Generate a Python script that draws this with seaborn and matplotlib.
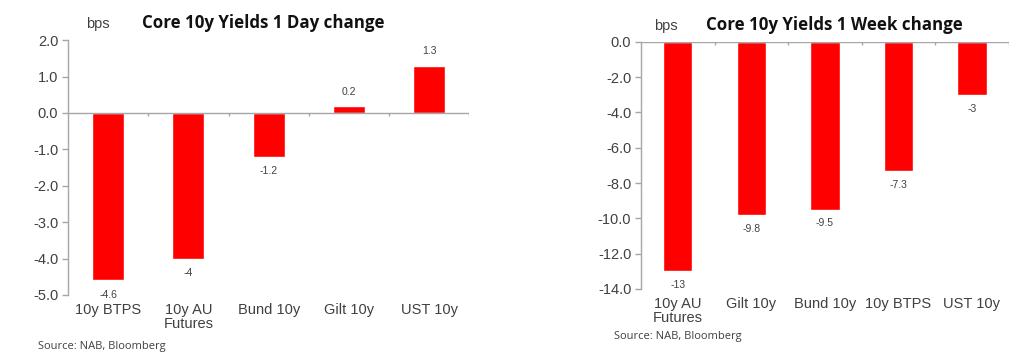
import matplotlib
matplotlib.use("Agg")
import matplotlib.pyplot as plt
import pandas as pd
import seaborn as sns

# Data
day_names = ['10y BTPS', '10y AU\nFutures', 'Bund 10y', 'Gilt 10y', 'UST 10y']
day_change = [-4.6, -4.0, -1.2, 0.2, 1.3]
day_labels = ['-4.6', '-4', '-1.2', '0.2', '1.3']

week_names = ['10y AU\nFutures', 'Gilt 10y', 'Bund 10y', '10y BTPS', 'UST 10y']
week_change = [-13.0, -9.8, -9.5, -7.3, -3.0]
week_labels = ['-13', '-9.8', '-9.5', '-7.3', '-3']

RED = '#FF0000'
GREY = '#A6A6A6'
TXT = '#404040'

sns.set_style('white')
plt.rcParams['font.family'] = ['Liberation Sans', 'DejaVu Sans']

fig = plt.figure(figsize=(10.24, 3.58), dpi=100)
ax1 = fig.add_axes([0.0664, 0.176, 0.392, 0.712])
ax2 = fig.add_axes([0.626, 0.193, 0.359, 0.690])


def draw_panel(ax, names, vals, labels, ylim, step, title, title_x, bps_x, tick_len, lab_off):
    df = pd.DataFrame({'name': names, 'value': vals})
    sns.barplot(data=df, x='name', y='value', color=RED, width=0.4,
                saturation=1, ax=ax, errorbar=None)
    ax.set_xlim(-0.5, len(names) - 0.5)
    ax.set_ylim(*ylim)
    ticks = [ylim[0] + i * step for i in range(int(round((ylim[1] - ylim[0]) / step)) + 1)]
    ax.set_yticks(ticks)
    ax.set_yticklabels([f'{t:.1f}' for t in ticks], fontsize=10.5, color=TXT)
    ax.set_xticks(range(len(names)))
    ax.set_xticklabels(names, fontsize=10.5, color=TXT, linespacing=1.0)
    ax.tick_params(axis='x', length=0, pad=6)
    ax.tick_params(axis='y', length=4, width=1, color=GREY, direction='out', pad=3, left=True)
    ax.set_xlabel('')
    ax.set_ylabel('')
    for s in ['top', 'right', 'bottom']:
        ax.spines[s].set_visible(False)
    ax.spines['left'].set_color(GREY)
    ax.spines['left'].set_linewidth(1)
    # zero line with category boundary ticks (Excel style)
    ax.axhline(0, color=GREY, lw=1, zorder=3)
    bounds = [i - 0.5 for i in range(len(names) + 1)]
    ax.vlines(bounds[1:], 0, -tick_len, color=GREY, lw=1, zorder=3)
    # data labels
    for i, (v, t) in enumerate(zip(vals, labels)):
        if v < 0:
            ax.text(i, v - lab_off, t, ha='center', va='top', fontsize=7.5, color=TXT)
        else:
            ax.text(i, v + lab_off, t, ha='center', va='bottom', fontsize=7.5, color=TXT)
    ax.text(bps_x, 1.035, 'bps', transform=ax.transAxes, fontsize=10.5, color=TXT,
            ha='left', va='bottom')
    ax.text(title_x, 1.03, title, transform=ax.transAxes, fontsize=12.2,
            fontweight='bold', color='#111111', ha='center', va='bottom',
            family=['Open Sans', 'DejaVu Sans'])


draw_panel(ax1, day_names, day_change, day_labels, (-5.0, 2.0), 1.0,
           'Core 10y Yields 1 Day change', 0.486, 0.045, 0.09, 0.25)
draw_panel(ax2, week_names, week_change, week_labels, (-14.0, 0.0), 2.0,
           'Core 10y Yields 1 Week change', 0.525, 0.035, 0.18, 0.5)

fig.text(38 / 1024, 1 - 346 / 358, 'Source: NAB, Bloomberg', fontsize=8,
         color=TXT, va='center', family=['Open Sans', 'DejaVu Sans'])
fig.text(614 / 1024, 1 - 337 / 358, 'Source: NAB, Bloomberg', fontsize=8,
         color=TXT, va='center', family=['Open Sans', 'DejaVu Sans'])

fig.savefig('out.png', dpi=100, facecolor='white')
